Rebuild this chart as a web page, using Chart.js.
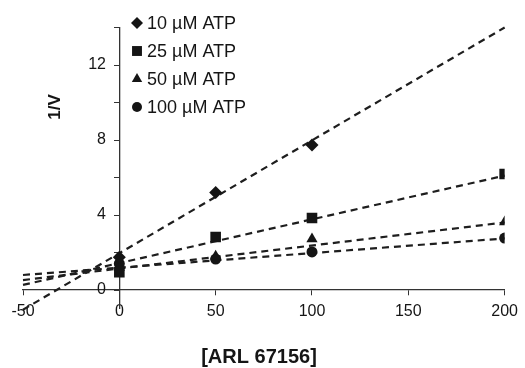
<!DOCTYPE html>
<html>
<head>
<meta charset="utf-8">
<script src="https://cdn.jsdelivr.net/npm/chart.js@4/dist/chart.umd.min.js"></script>
<style>
  body { margin: 0; background: #fff; }
  #wrap { width: 525px; height: 368px; }
</style>
</head>
<body>
<div id="wrap"><canvas id="dixonChart" width="525" height="368"></canvas></div>
<script>
// inhibitor concentration [ARL 67156]
var concentrations = [0, 50, 100, 200];

// 1/V values
var atp10 = [1.75, 5.2, 7.73, null];
var atp25 = [0.95, 2.83, 3.84, 6.19];
var atp50 = [1.2, 1.8, 2.72, 3.63];
var atp100 = [1.4, 1.65, 2.03, 2.77];

var seriesLabels = ["10 \u00b5M ATP", "25 \u00b5M ATP", "50 \u00b5M ATP", "100 \u00b5M ATP"];
var markerStyles = ["rectRot", "rect", "triangle", "circle"];

// dashed fit lines, value at x = -50 and at x = 200
var fitX = [-50, 200];
var fitStart = [-1.05, 0.27, 0.53, 0.8];
var fitEnd = [14.0, 6.1, 3.6, 2.75];

var xTicks = [-50, 0, 50, 100, 150, 200];
var yTicks = [0, 2, 4, 6, 8, 10, 12, 14];

var FONT = '"Liberation Sans", Arial, sans-serif';
var INK = "#151515";
var allSeries = [atp10, atp25, atp50, atp100];
var markerSize = [6.5, 7.5, 6.5, 5.5];

function toPoints(values) {
    var pts = [];
    for (var i = 0; i < concentrations.length; i++) {
        if (values[i] !== null) pts.push({x: concentrations[i], y: values[i]});
    }
    return pts;
}

var datasets = [];
allSeries.forEach(function (values, i) {
    datasets.push({
        label: seriesLabels[i],
        data: toPoints(values),
        pointStyle: markerStyles[i],
        pointRadius: markerSize[i],
        pointBackgroundColor: INK,
        pointBorderColor: INK,
        pointBorderWidth: 0,
        showLine: false,
        order: 0
    });
});
allSeries.forEach(function (values, i) {
    datasets.push({
        label: "fit " + seriesLabels[i],
        data: [{x: fitX[0], y: fitStart[i]}, {x: fitX[1], y: fitEnd[i]}],
        showLine: true,
        borderColor: "#1e1e1e",
        borderWidth: 2.2,
        borderDash: [7, 5],
        pointRadius: 0,
        clip: false,
        order: 1
    });
});

// legend drawn inside the plot, plus the two axis titles
var labelsPlugin = {
    id: "labelsPlugin",
    afterDraw: function (chart) {
        var ctx = chart.ctx;
        ctx.save();
        ctx.fillStyle = INK;
        ctx.textBaseline = "middle";
        ctx.font = "18px " + FONT;
        seriesLabels.forEach(function (label, i) {
            var y = 23 + i * 28;
            Chart.helpers.drawPoint(ctx, {pointStyle: markerStyles[i], radius: markerSize[i] - 0.5, borderWidth: 0, rotation: 0}, 137, y);
            ctx.fillText(label, 147, y + 1);
        });

        ctx.font = "bold 20px " + FONT;
        ctx.textAlign = "center";
        ctx.fillText("[ARL 67156]", 259, 357);

        ctx.translate(55, 107);
        ctx.rotate(-Math.PI / 2);
        ctx.font = "bold 17px " + FONT;
        ctx.fillText("1/V", 0, 0);
        ctx.restore();
    }
};

var ctx = document.getElementById("dixonChart");
var myChart = new Chart(ctx, {
    type: "scatter",
    data: {datasets: datasets},
    plugins: [labelsPlugin],
    options: {
        responsive: false,
        animation: false,
        layout: {padding: {left: 23, right: 20, top: 27.5, bottom: 59.25}},
        plugins: {
            legend: {display: false},
            tooltip: {enabled: false}
        },
        scales: {
            x: {
                type: "linear",
                position: {y: 0},
                min: -50,
                max: 200,
                afterBuildTicks: function (scale) {
                    scale.ticks = xTicks.map(function (v) { return {value: v}; });
                },
                ticks: {
                    color: INK,
                    font: {family: FONT, size: 16},
                    padding: 7,
                    maxRotation: 0
                },
                grid: {drawOnChartArea: false, drawTicks: true, tickLength: 5, color: "#333"},
                border: {color: "#333", width: 1.3}
            },
            y: {
                type: "linear",
                position: {x: 0},
                min: -1,
                max: 14,
                afterBuildTicks: function (scale) {
                    scale.ticks = yTicks.map(function (v) { return {value: v}; });
                },
                ticks: {
                    color: INK,
                    font: {family: FONT, size: 16},
                    // labels sit right-aligned on the axis line, so pad with spaces
                    callback: function (v) {
                        return (v % 4 === 0 && v <= 12) ? v + "   " : "";
                    }
                },
                grid: {drawOnChartArea: false, drawTicks: true, tickLength: 5, color: "#333"},
                border: {color: "#333", width: 1.3}
            }
        }
    }
});
</script>
</body>
</html>
